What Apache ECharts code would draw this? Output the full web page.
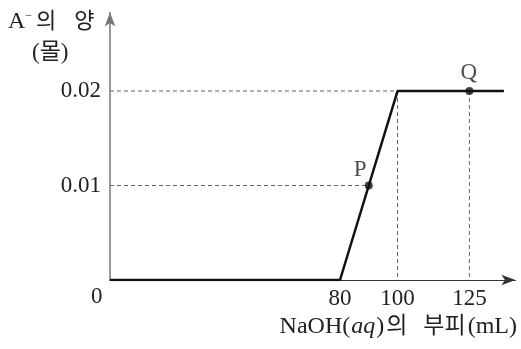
<!DOCTYPE html>
<html><head><meta charset="utf-8">
<script src="https://cdn.jsdelivr.net/npm/echarts@6/dist/echarts.min.js"></script>
<style>html,body{margin:0;padding:0;background:#fff}#c{width:521px;height:349px}</style>
</head><body><div id="c"></div>
<script>
// data
const curveX = [0, 80, 100, 137];
const curveY = [0, 0, 0.02, 0.02];
const pointNames = ['P', 'Q'];
const pointX = [90, 125];
const pointY = [0.01, 0.02];
const xTicks = [80, 100, 125];
const yTicks = [0.01, 0.02];
const guideLines = [
  [[0, 0.02], [100, 0.02]],
  [[100, 0.02], [100, 0]],
  [[0, 0.01], [90, 0.01]],
  [[125, 0.02], [125, 0]]
];

const FONT = '"Liberation Serif","DejaVu Serif","Noto Sans CJK KR",serif';
const chart = echarts.init(document.getElementById('c'));
const series = [];
guideLines.forEach(seg => series.push({
  type: 'line', data: seg, symbol: 'none', silent: true,
  lineStyle: {color: '#666', width: 1, type: [4, 3]}, z: 1
}));
series.push({
  type: 'line', data: curveX.map((x, i) => [x, curveY[i]]), symbol: 'none',
  lineStyle: {color: '#111', width: 2.5}, z: 3
});
series.push({
  type: 'scatter', symbolSize: 8, itemStyle: {color: '#111'}, z: 4,
  data: pointX.map((x, i) => ({
    value: [x, pointY[i]], name: pointNames[i],
    label: {show: true, formatter: '{b}', position: i === 0 ? [-11, -23] : [-5, -26],
      fontFamily: FONT, fontSize: 23, color: '#222'}
  }))
});
const t = (size, extra) => Object.assign({fontFamily: FONT, fontSize: size, fill: '#222'}, extra || {});
chart.setOption({
  animation: false,
  grid: {left: 110, top: 12.6, width: 405.4, height: 267.4, containLabel: false},
  xAxis: {
    type: 'value', min: 0, max: 141,
    axisLine: {lineStyle: {color: '#333', width: 1.2}, symbol: ['none', 'arrow'], symbolSize: [8, 14]},
    axisTick: {show: false}, splitLine: {show: false},
    axisLabel: {customValues: xTicks, fontFamily: FONT, fontSize: 23, color: '#222', margin: 7}
  },
  yAxis: {
    type: 'value', min: 0, max: 0.0283,
    axisLine: {show: true, lineStyle: {color: '#777', width: 1.5}, symbol: ['none', 'arrow'], symbolSize: [8, 14]},
    axisTick: {show: false}, splitLine: {show: false},
    axisLabel: {customValues: yTicks, fontFamily: FONT, fontSize: 23, color: '#222', margin: 9,
      formatter: v => v.toFixed(2)}
  },
  graphic: [
    {type: 'text', left: 8, top: 10, style: {
      text: '{a|A}{s|−}{k|의}{k2|양}', rich: {
        a: t(24),
        s: t(12, {verticalAlign: 'top', padding: [0, 0, 12, 0]}),
        k: t(22, {padding: [0, 0, 0, 4]}),
        k2: t(22, {padding: [0, 0, 0, 18]})
      }}},
    {type: 'text', left: 32, top: 41, style: {text: '(몰)', font: '23px ' + FONT, fill: '#222'}},
    {type: 'text', left: 91, top: 285, style: {text: '0', font: '23px ' + FONT, fill: '#222'}},
    {type: 'text', right: 4, top: 315, style: {
      text: '{n|NaOH(}{i|aq}{n|)}{k|의}{k2|부피}{m|(mL)}', rich: {
        n: t(24),
        i: t(24, {fontStyle: 'italic', padding: [0, 1, 0, 1]}),
        k: t(23, {padding: [0, 0, 0, 2]}),
        k2: t(23, {padding: [0, 0, 0, 16]}),
        m: t(24, {padding: [0, 0, 0, 2]})
      }}}
  ],
  series: series
});
</script></body></html>
